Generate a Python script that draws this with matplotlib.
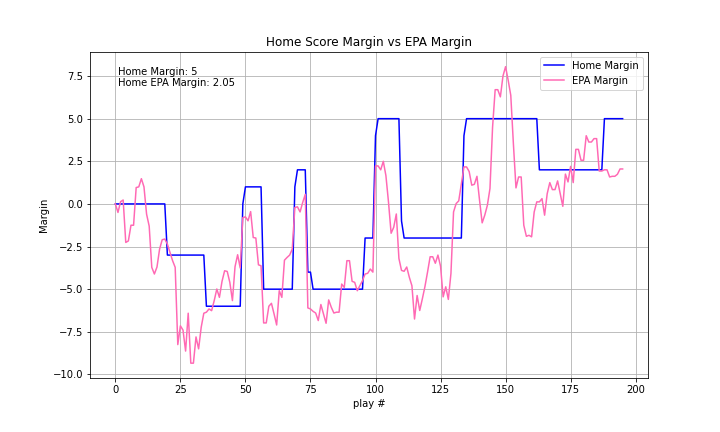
import numpy as np
import matplotlib
matplotlib.use('Agg')
import matplotlib.pyplot as plt

## home score margin and EPA margin, one value per play (0..195)

home_margin = ([0] * 20 + [-3] * 15 + [-6] * 14 + [0] + [1] * 7 + [-5] * 12 + [1] + [2] * 4
               + [-4] * 2 + [-5] * 20 + [-2] * 4 + [4] + [5] * 9 + [-1] + [-2] * 23 + [4]
               + [5] * 28 + [2] * 25 + [5] * 8)

epa_margin = [
    0.0, -0.5, 0.13, 0.23, -2.26, -2.17, -1.25, -1.25, 0.96, 1.0,
    1.48, 1.0, -0.6, -1.3, -3.72, -4.11, -3.7, -2.65, -2.1, -2.06,
    -2.36, -2.85, -3.33, -3.72, -8.25, -7.15, -7.4, -8.63, -6.41, -9.34,
    -9.34, -7.8, -8.5, -7.23, -6.41, -6.35, -6.16, -6.26, -5.67, -4.99,
    -5.48, -4.54, -3.92, -3.96, -4.6, -5.67, -3.68, -2.98, -3.76, -0.8,
    -0.76, -0.99, -0.45, -1.97, -2.0, -3.57, -3.63, -6.98, -6.98, -6.0,
    -5.83, -6.45, -7.1, -5.09, -5.48, -3.3, -3.14, -3.0, -2.65, -0.21,
    -0.17, -0.47, 0.08, 0.56, -6.1, -6.16, -6.3, -6.4, -6.84, -5.9,
    -6.45, -7.0, -5.63, -6.06, -6.4, -6.35, -6.35, -4.7, -4.9, -3.33,
    -3.33, -4.54, -4.6, -5.09, -4.8, -4.5, -4.11, -4.07, -3.82, -4.0,
    2.23, 2.23, 2.0, 2.5, 1.66, 0.1, -1.72, -1.37, -0.59, -3.2,
    -3.9, -3.95, -3.7, -4.3, -4.8, -6.75, -5.37, -6.25, -5.57, -4.85,
    -4.0, -3.1, -3.1, -3.48, -3.0, -3.65, -5.45, -4.86, -5.6, -4.08,
    -0.47, 0.02, 0.18, 1.19, 2.17, 2.17, 1.9, 1.1, 1.15, 1.62,
    0.21, -1.11, -0.66, -0.08, 0.9, 4.5, 6.7, 6.7, 6.28, 7.5,
    8.05, 7.25, 6.37, 3.54, 0.94, 1.58, 1.58, -1.25, -1.9, -1.84,
    -1.93, -0.47, 0.12, 0.12, 0.31, -0.66, 0.6, 1.25, 0.84, 0.84,
    1.35, 0.6, -0.14, 1.75, 1.29, 2.2, 1.25, 3.2, 3.2, 2.56,
    2.56, 4.0, 3.63, 3.63, 3.83, 3.83, 1.93, 1.93, 2.0, 2.0,
    1.58, 1.62, 1.62, 1.74, 2.05, 2.05,
]

plays = np.arange(len(epa_margin))

fig, ax = plt.subplots(figsize=(10, 6), dpi=72)
fig.subplots_adjust(left=0.125, right=0.9, top=0.88, bottom=0.125)

ax.plot(plays, home_margin, color='blue', label='Home Margin')
ax.plot(plays, epa_margin, color='hotpink', label='EPA Margin')

ax.text(0.05, 0.955, 'Home Margin: %d\nHome EPA Margin: %.2f' % (home_margin[-1], epa_margin[-1]),
        transform=ax.transAxes, va='top', ha='left')

ax.set_title('Home Score Margin vs EPA Margin')
ax.set_xlabel('play #')
ax.set_ylabel('Margin')
ax.grid(True)
ax.legend(loc='upper right')

fig.savefig('out.png')
